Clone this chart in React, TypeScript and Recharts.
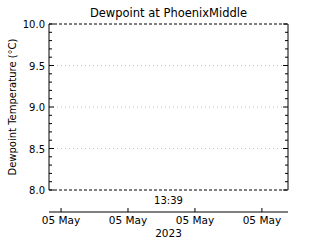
import { ComposedChart, Line, XAxis, YAxis, ReferenceLine } from 'recharts';

// chart values (no dewpoint readings in the window: times only, values missing)
const times = [0, 1, 2, 3];
const dewpointValues: (number | null)[] = [null, null, null, null];
const yMajorTicks = [8.0, 8.5, 9.0, 9.5, 10.0];
const yMinorTicks = [
  8.0, 8.1, 8.2, 8.3, 8.4, 8.5, 8.6, 8.7, 8.8, 8.9, 9.0,
  9.1, 9.2, 9.3, 9.4, 9.5, 9.6, 9.7, 9.8, 9.9, 10.0,
];
const gridValues = [8.5, 9.0, 9.5];
const xTicks = [0, 1, 2, 3];
const xTickLabels = ['05 May', '05 May', '05 May', '05 May'];
const timeLabel = '13:39';
const yearLabel = '2023';

const data = times.map((t, i) => ({ t, v: dewpointValues[i] }));

const FONT = 'DejaVu Sans';

const isMajor = (v: number) => yMajorTicks.some((m) => Math.abs(m - v) < 1e-6);

const LeftTick = (props: any) => {
  const { x, y, payload } = props;
  const major = isMajor(payload.value);
  return (
    <g>
      <line x1={x} x2={x + (major ? 5 : 3)} y1={y} y2={y} stroke="#000" />
      {major && (
        <text x={x - 4} y={y + 4} textAnchor="end" fontSize={10} fontFamily={FONT} fill="#000">
          {payload.value.toFixed(1)}
        </text>
      )}
    </g>
  );
};

const RightTick = (props: any) => {
  const { x, y, payload } = props;
  const major = isMajor(payload.value);
  return <line x1={x} x2={x - (major ? 5 : 3)} y1={y} y2={y} stroke="#000" />;
};

const TimeTick = (props: any) => {
  const { x, y, index } = props;
  return (
    <g>
      <line x1={x} x2={x} y1={y} y2={y - 4} stroke="#000" />
      <text x={x} y={y + 12} textAnchor="middle" fontSize={10.5} fontFamily={FONT} fill="#000">
        {xTickLabels[index]}
      </text>
    </g>
  );
};

const App = () => {
  return (
    <div style={{ position: 'absolute', left: 0, top: 0, width: 320, height: 240, background: '#fff' }}>
      <div
        style={{
          position: 'absolute',
          left: 0,
          width: 337,
          top: 6,
          textAlign: 'center',
          fontFamily: FONT,
          fontSize: 11.5,
          color: '#000',
        }}
      >
        Dewpoint at PhoenixMiddle
      </div>
      <ComposedChart
        width={320}
        height={240}
        data={data}
        margin={{ top: 24, right: 0, bottom: 0, left: 0 }}
      >
        <XAxis
          xAxisId="pad"
          dataKey="t"
          type="number"
          domain={[-0.18, 3.39]}
          allowDataOverflow
          height={22}
          axisLine={false}
          tick={false}
          tickLine={false}
          label={{ value: timeLabel, position: 'center', dy: -1, fontSize: 10, fontFamily: FONT, fill: '#000' }}
        />
        <XAxis
          xAxisId="time"
          dataKey="t"
          type="number"
          domain={[-0.18, 3.39]}
          allowDataOverflow
          ticks={xTicks}
          interval={0}
          height={28}
          axisLine={{ stroke: '#000' }}
          tickSize={0}
          tickMargin={0}
          tick={<TimeTick />}
          label={{ value: yearLabel, position: 'insideBottom', offset: 3, fontSize: 10.5, fontFamily: FONT, fill: '#000' }}
        />
        <YAxis
          yAxisId="left"
          type="number"
          domain={[8, 10]}
          allowDataOverflow
          ticks={yMinorTicks}
          interval={0}
          width={49}
          axisLine={{ stroke: '#000' }}
          tickSize={0}
          tickMargin={0}
          tick={<LeftTick />}
          label={{
            value: 'Dewpoint Temperature (°C)',
            angle: -90,
            position: 'insideLeft',
            offset: 12,
            fontSize: 10,
            fontFamily: FONT,
            fill: '#000',
            style: { textAnchor: 'middle' },
          }}
        />
        <YAxis
          yAxisId="right"
          orientation="right"
          type="number"
          domain={[8, 10]}
          allowDataOverflow
          ticks={yMinorTicks}
          interval={0}
          width={32}
          axisLine={{ stroke: '#000' }}
          tickSize={0}
          tickMargin={0}
          tick={<RightTick />}
        />
        {gridValues.map((g) => (
          <ReferenceLine
            key={g}
            y={g}
            yAxisId="left"
            xAxisId="pad"
            stroke="#c4c4c4"
            strokeDasharray="1 3"
          />
        ))}
        <ReferenceLine y={10} yAxisId="left" xAxisId="pad" stroke="#000" strokeDasharray="3 2" />
        <ReferenceLine y={8} yAxisId="left" xAxisId="pad" stroke="#000" strokeDasharray="3 2" />
        <Line
          xAxisId="time"
          yAxisId="left"
          dataKey="v"
          stroke="#000"
          dot={false}
          isAnimationActive={false}
        />
        <Line
          xAxisId="pad"
          yAxisId="right"
          dataKey="v"
          stroke="#000"
          dot={false}
          isAnimationActive={false}
        />
      </ComposedChart>
    </div>
  );
};

export default App;
